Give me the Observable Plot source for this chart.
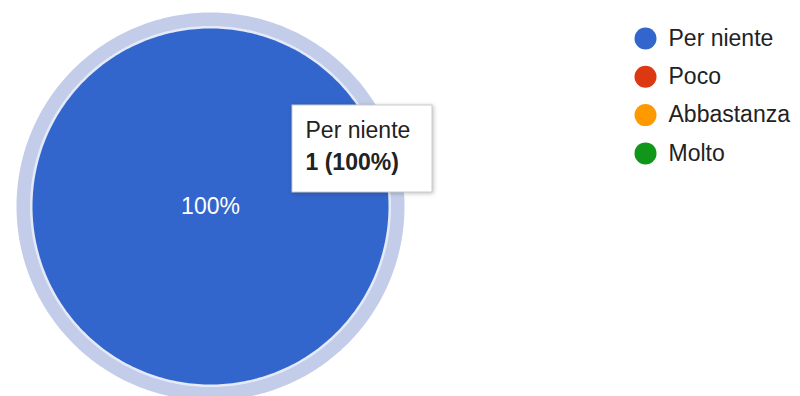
<!DOCTYPE html>
<html>
<head>
<meta charset="utf-8">
<script src="https://cdn.jsdelivr.net/npm/d3@7"></script>
<script src="https://cdn.jsdelivr.net/npm/@observablehq/plot@0.6"></script>
<style>
  html, body { margin: 0; padding: 0; background: #fff; }
  #chart { width: 800px; height: 396px; }
</style>
</head>
<body>
<div id="chart"></div>
<script>
// ---- data ----
const categories = ["Per niente", "Poco", "Abbastanza", "Molto"];
const counts = [1, 0, 0, 0];
const colors = ["#3366cc", "#dc3912", "#ff9900", "#109618"];
const hovered = "Per niente";           // slice currently highlighted
const tooltipTitle = "Per niente";
const tooltipValue = "1 (100%)";

// ---- layout (pixels) ----
const W = 800, H = 396;
const cx = 210, cy = 206, R = 178;       // pie centre and radius
const ringInner = 180, ringOuter = 194;   // hover highlight ring
const legendDotX = 645, legendTextX = 668, legendTop = 38, legendStep = 38.3;
const tipBox = {x1: 292, x2: 432, y1: 105, y2: 192, padX: 13};

// pixel -> pie unit helpers (scales map unit space onto pixels)
const ux = px => (px - cx) / R;
const uy = py => (cy - py) / R;

const total = d3.sum(counts);
const arcs = d3.pie().sort(null).value(d => d)(counts)
  .map((a, i) => ({...a, cat: categories[i], color: colors[i], count: counts[i]}));

function outline(a, r, withCentre) {
  const pts = [];
  const n = Math.max(2, Math.ceil((a.endAngle - a.startAngle) / (Math.PI / 180)));
  const full = a.endAngle - a.startAngle >= 2 * Math.PI - 1e-9;
  if (withCentre && !full) pts.push({x: 0, y: 0, cat: a.cat, color: a.color});
  for (let k = 0; k <= n; k++) {
    const t = a.startAngle + (a.endAngle - a.startAngle) * k / n;
    pts.push({x: r * Math.sin(t), y: r * Math.cos(t), cat: a.cat, color: a.color});
  }
  return pts;
}

const visible = arcs.filter(a => a.count > 0);
const slicePts = visible.flatMap(a => outline(a, 1, true));
const hov = visible.find(a => a.cat === hovered);
const ringPts = hov ? outline(hov, (ringInner + ringOuter) / 2 / R, false) : [];
const edgePts = hov ? outline(hov, (R + ringInner) / 2 / R, false) : [];

const labels = visible.map(a => {
  const full = a.endAngle - a.startAngle >= 2 * Math.PI - 1e-9;
  const mid = (a.startAngle + a.endAngle) / 2;
  return {
    x: full ? 0 : 0.6 * Math.sin(mid),
    y: full ? 0 : 0.6 * Math.cos(mid),
    text: d3.format(".0%")(a.count / total)
  };
});

const legend = categories.map((c, i) => ({
  cat: c, color: colors[i],
  y: uy(legendTop + i * legendStep)
}));

const tipRect = [{x1: ux(tipBox.x1), x2: ux(tipBox.x2), y1: uy(tipBox.y1), y2: uy(tipBox.y2)}];
const tipTitle = [{text: tooltipTitle, y: uy(130)}];
const tipValue = [{text: tooltipValue, y: uy(162)}];

const chart = Plot.plot({
  width: W, height: H,
  margin: 0,
  x: {type: "linear", domain: [-1, 1], range: [cx - R, cx + R], axis: null},
  y: {type: "linear", domain: [-1, 1], range: [cy + R, cy - R], axis: null},
  style: {fontFamily: "'Liberation Sans', Arial, sans-serif", background: "#fff"},
  marks: [
    // hover ring
    Plot.line(ringPts, {x: "x", y: "y", z: "cat", stroke: "#c3cdea", strokeWidth: ringOuter - ringInner, curve: "linear-closed"}),
    Plot.line(edgePts, {x: "x", y: "y", z: "cat", stroke: "#e4eaf8", strokeWidth: ringInner - R + 1, curve: "linear-closed"}),
    // slices
    Plot.line(slicePts, {x: "x", y: "y", z: "cat", fill: d => d.color, stroke: "none", curve: "linear-closed"}),
    // slice labels
    Plot.text(labels, {x: "x", y: "y", text: "text", fill: "#fff", fontSize: 23}),
    // tooltip
    Plot.rect(tipRect, {x1: "x1", x2: "x2", y1: "y1", y2: "y2", fill: "#fff", stroke: "#cccccc", strokeWidth: 1,
      imageFilter: "drop-shadow(1px 1px 2px rgba(0,0,0,0.25))"}),
    Plot.text(tipTitle, {x: ux(tipBox.x1 + tipBox.padX), y: "y", text: "text", textAnchor: "start",
      fontSize: 23, fill: "#222"}),
    Plot.text(tipValue, {x: ux(tipBox.x1 + tipBox.padX), y: "y", text: "text", textAnchor: "start",
      fontWeight: "bold", fontSize: 23, fill: "#222"}),
    // legend
    Plot.dot(legend, {x: ux(legendDotX), y: "y", r: 11, fill: d => d.color, stroke: "none"}),
    Plot.text(legend, {x: ux(legendTextX), y: "y", text: "cat", textAnchor: "start", fontSize: 23, fill: "#222"})
  ]
});
document.getElementById("chart").appendChild(chart);
</script>
</body>
</html>
